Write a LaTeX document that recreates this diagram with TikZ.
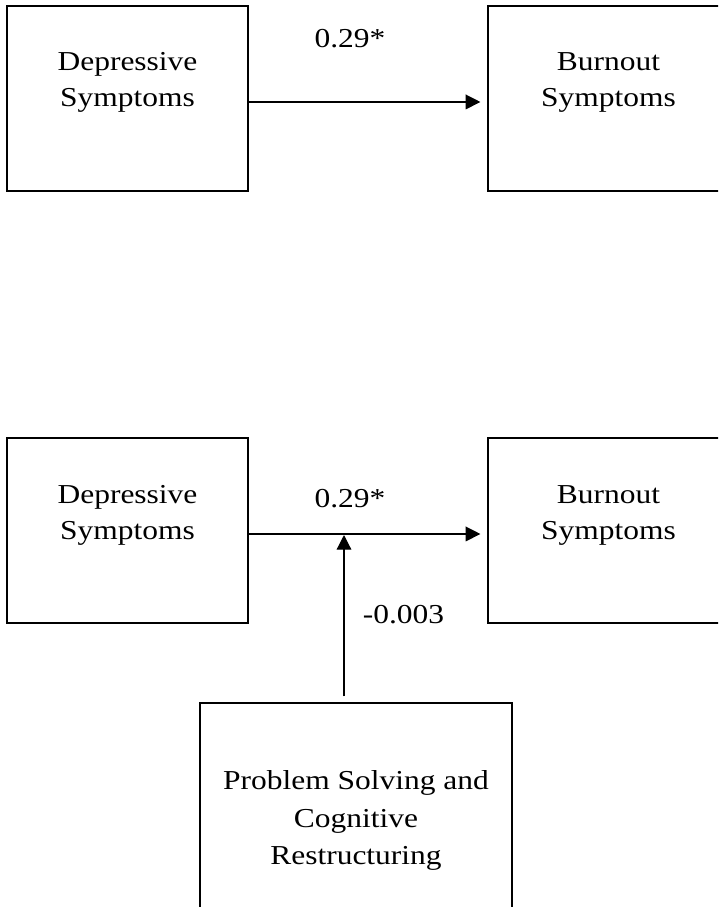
\documentclass[tikz,border=0pt]{standalone}
\usepackage{fontspec}
\usepackage{graphicx}
\setmainfont{Liberation Serif}
\usetikzlibrary{arrows.meta}
\newcommand{\sqtext}[1]{\scalebox{1}[.87]{\begin{tabular}{@{}c@{}}#1\end{tabular}}}

\begin{document}
\begin{tikzpicture}[x=0.75pt, y=-0.75pt,
  box/.style = {draw, line width=0.9pt, minimum width=180.75pt,
                minimum height=138.75pt, inner sep=0pt},
  txt/.style = {inner sep=0pt, font=\fontsize{23.6}{30.2}\selectfont},
  arr/.style = {line width=0.9pt, -{Triangle[length=11pt,width=11pt]}}]
  \useasboundingbox (0,0) rectangle (718,907);
  \clip (0,0) rectangle (718,907);

  % direct path
  \node[box] at (127.5,98.5) (D1) {};
  \node[box] at (608.5,98.5) (B1) {};
  \node[txt] at (127.5,81.5) (D1t) {\sqtext{Depressive\\Symptoms}};
  \node[txt] at (608.5,81.5) (B1t) {\sqtext{Burnout\\Symptoms}};
  \node[txt] at (350,40) (c1) {\sqtext{0.29*}};

  \draw[arr, shorten >=5.25pt] ([yshift=-2.6pt]D1.east) -- ([yshift=-2.6pt]B1.west);

  % moderated path
  \node[box] at (127.5,530.5) (D2) {};
  \node[box] at (608.5,530.5) (B2) {};
  \node[txt] at (127.5,514.5) (D2t) {\sqtext{Depressive\\Symptoms}};
  \node[txt] at (608.5,514.5) (B2t) {\sqtext{Burnout\\Symptoms}};
  \node[txt] at (350,500) (c2) {\sqtext{0.29*}};

  \node[box, minimum width=234pt, minimum height=170.25pt] at (356,816.5) (PS) {};
  \node[txt] at (356,820.3) (PSt) {\sqtext{Problem Solving and\\[2pt]Cognitive\\[2pt]Restructuring}};
  \node[txt] at (403.5,616) (c3) {\sqtext{-0.003}};

  \draw[arr, shorten >=5.25pt] ([yshift=-2.6pt]D2.east) -- ([yshift=-2.6pt]B2.west);

  \coordinate (jn) at (344,535);
  \draw[arr, shorten <=4.5pt] (PS.north -| jn) -- (jn);
\end{tikzpicture}
\end{document}
